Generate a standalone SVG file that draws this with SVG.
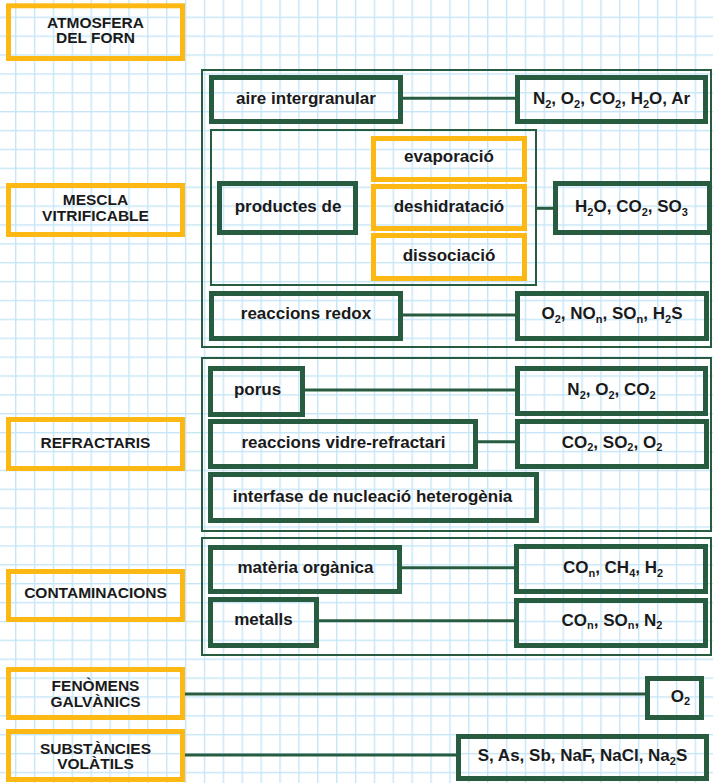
<svg xmlns="http://www.w3.org/2000/svg" width="713" height="783" viewBox="0 0 713 783">
<defs>
<pattern id="grid" patternUnits="userSpaceOnUse" x="15" y="16.6" width="18.88" height="18.88">
<rect x="0" y="0" width="1.4" height="18.88" fill="#c6e6f7"/>
<rect x="0" y="0" width="18.88" height="1.4" fill="#c6e6f7"/>
</pattern>
<style>
.g{fill:none;stroke:#285c41;stroke-width:5}
.o{fill:none;stroke:#fdb813;stroke-width:5}
.c{fill:none;stroke:#285c41;stroke-width:2}
.ln{stroke:#285c41;stroke-width:3;fill:none}
.t{font-family:"Liberation Sans",Arial,sans-serif;font-weight:bold;font-size:17px;fill:#1a1a1a;text-anchor:middle}
.u{font-size:15.5px}
.s{font-size:11px}
</style>
</defs>
<rect width="713" height="783" fill="#ffffff"/>
<rect width="713" height="783" fill="url(#grid)"/>

<g id="containers">
<rect class="c" x="202" y="70" width="509" height="277"/>
<rect class="c" x="211" y="130" width="325" height="155"/>
<rect class="c" x="202" y="358" width="509" height="173"/>
<rect class="c" x="202" y="538" width="509" height="117"/>
</g>

<g id="connectors">
<line class="ln" x1="403" y1="98.3" x2="515" y2="98.3"/>
<line class="ln" x1="537" y1="208.3" x2="553" y2="208.3"/>
<line class="ln" x1="403" y1="315" x2="515" y2="315"/>
<line class="ln" x1="305" y1="390" x2="515" y2="390"/>
<line class="ln" x1="478" y1="441.7" x2="515" y2="441.7"/>
<line class="ln" x1="402" y1="567.7" x2="514" y2="567.7"/>
<line class="ln" x1="319" y1="620.7" x2="514" y2="620.7"/>
<line class="ln" x1="185" y1="694" x2="645" y2="694"/>
<line class="ln" x1="185" y1="755" x2="456" y2="755"/>
</g>

<g id="atmosfera">
<rect class="o" x="8.5" y="5.8" width="174" height="52.7"/>
<text class="t u" x="95.5" y="28.3">ATMOSFERA</text>
<text class="t u" x="95.5" y="43.3">DEL FORN</text>
</g>
<g id="mescla">
<rect class="o" x="8.5" y="185.5" width="174" height="49"/>
<text class="t u" x="95.5" y="205">MESCLA</text>
<text class="t u" x="95.5" y="220.5">VITRIFICABLE</text>
</g>
<g id="refractaris">
<rect class="o" x="8.5" y="419.5" width="174" height="49"/>
<text class="t u" x="95.5" y="448.3">REFRACTARIS</text>
</g>
<g id="contaminacions">
<rect class="o" x="8.5" y="571.5" width="174" height="48"/>
<text class="t u" x="95.5" y="598.3">CONTAMINACIONS</text>
</g>
<g id="galvanics">
<rect class="o" x="8.5" y="669.5" width="174" height="48"/>
<text class="t u" x="95.5" y="691">FENÒMENS</text>
<text class="t u" x="95.5" y="707">GALVÀNICS</text>
</g>
<g id="volatils">
<rect class="o" x="8.5" y="731.5" width="174" height="48"/>
<text class="t u" x="95.5" y="754">SUBSTÀNCIES</text>
<text class="t u" x="95.5" y="769.3">VOLÀTILS</text>
</g>

<g id="aire">
<rect class="g" x="211.5" y="77.5" width="189" height="44"/>
<text class="t" x="306" y="104.3">aire intergranular</text>
</g>
<g id="gasos-aire">
<rect class="g" x="517.5" y="77.5" width="188" height="44"/>
<text class="t" x="611.5" y="104.3">N<tspan class="s" dy="3.5">2</tspan><tspan dy="-3.5">, O</tspan><tspan class="s" dy="3.5">2</tspan><tspan dy="-3.5">, CO</tspan><tspan class="s" dy="3.5">2</tspan><tspan dy="-3.5">, H</tspan><tspan class="s" dy="3.5">2</tspan><tspan dy="-3.5">O, Ar</tspan></text>
</g>
<g id="productes">
<rect class="g" x="219.5" y="183.5" width="136" height="49"/>
<text class="t" x="288" y="212.3">productes de</text>
</g>
<g id="evaporacio">
<rect class="o" x="373.5" y="138.5" width="151" height="41"/>
<text class="t" x="449" y="162.3">evaporació</text>
</g>
<g id="deshidratacio">
<rect class="o" x="373.5" y="186.5" width="151" height="42"/>
<text class="t" x="449" y="212.3">deshidratació</text>
</g>
<g id="dissociacio">
<rect class="o" x="373.5" y="235.5" width="151" height="43"/>
<text class="t" x="449" y="260.7">dissociació</text>
</g>
<g id="gasos-productes">
<rect class="g" x="555.5" y="183.5" width="154" height="49"/>
<text class="t" x="631.5" y="212.3">H<tspan class="s" dy="3.5">2</tspan><tspan dy="-3.5">O, CO</tspan><tspan class="s" dy="3.5">2</tspan><tspan dy="-3.5">, SO</tspan><tspan class="s" dy="3.5">3</tspan></text>
</g>
<g id="redox">
<rect class="g" x="211.5" y="293.5" width="189" height="45"/>
<text class="t" x="306" y="319.3">reaccions redox</text>
</g>
<g id="gasos-redox">
<rect class="g" x="517.5" y="293.5" width="189" height="45"/>
<text class="t" x="612" y="319.3">O<tspan class="s" dy="3.5">2</tspan><tspan dy="-3.5">, NO</tspan><tspan class="s" dy="3.5">n</tspan><tspan dy="-3.5">, SO</tspan><tspan class="s" dy="3.5">n</tspan><tspan dy="-3.5">, H</tspan><tspan class="s" dy="3.5">2</tspan><tspan dy="-3.5">S</tspan></text>
</g>

<g id="porus">
<rect class="g" x="210.5" y="368.5" width="92" height="46"/>
<text class="t" x="257.5" y="395">porus</text>
</g>
<g id="gasos-porus">
<rect class="g" x="517.5" y="368.5" width="188" height="45"/>
<text class="t" x="611.5" y="395">N<tspan class="s" dy="3.5">2</tspan><tspan dy="-3.5">, O</tspan><tspan class="s" dy="3.5">2</tspan><tspan dy="-3.5">, CO</tspan><tspan class="s" dy="3.5">2</tspan></text>
</g>
<g id="vidre">
<rect class="g" x="210.5" y="421.5" width="265" height="45"/>
<text class="t" x="343.5" y="447.5">reaccions vidre-refractari</text>
</g>
<g id="gasos-vidre">
<rect class="g" x="517.5" y="421.5" width="189" height="45"/>
<text class="t" x="612" y="447.5">CO<tspan class="s" dy="3.5">2</tspan><tspan dy="-3.5">, SO</tspan><tspan class="s" dy="3.5">2</tspan><tspan dy="-3.5">, O</tspan><tspan class="s" dy="3.5">2</tspan></text>
</g>
<g id="interfase">
<rect class="g" x="210.5" y="474.5" width="326" height="46"/>
<text class="t" x="372.5" y="501.7">interfase de nucleació heterogènia</text>
</g>

<g id="materia">
<rect class="g" x="210.5" y="547.5" width="189" height="44"/>
<text class="t" x="305.5" y="573.3">matèria orgànica</text>
</g>
<g id="gasos-materia">
<rect class="g" x="516.5" y="546.5" width="189" height="45"/>
<text class="t" x="613" y="573.3">CO<tspan class="s" dy="3.5">n</tspan><tspan dy="-3.5">, CH</tspan><tspan class="s" dy="3.5">4</tspan><tspan dy="-3.5">, H</tspan><tspan class="s" dy="3.5">2</tspan></text>
</g>
<g id="metalls">
<rect class="g" x="210.5" y="599.5" width="106" height="46"/>
<text class="t" x="263.5" y="625">metalls</text>
</g>
<g id="gasos-metalls">
<rect class="g" x="516.5" y="600.5" width="189" height="45"/>
<text class="t" x="612" y="625.5">CO<tspan class="s" dy="3.5">n</tspan><tspan dy="-3.5">, SO</tspan><tspan class="s" dy="3.5">n</tspan><tspan dy="-3.5">, N</tspan><tspan class="s" dy="3.5">2</tspan></text>
</g>

<g id="gasos-galvanics">
<rect class="g" x="647.5" y="678.5" width="54" height="39"/>
<text class="t" x="680.5" y="701.7">O<tspan class="s" dy="3.5">2</tspan></text>
</g>
<g id="gasos-volatils">
<rect class="g" x="458.5" y="736.5" width="248" height="42"/>
<text class="t" x="582.5" y="761">S, As, Sb, NaF, NaCl, Na<tspan class="s" dy="3.5">2</tspan><tspan dy="-3.5">S</tspan></text>
</g>
</svg>
